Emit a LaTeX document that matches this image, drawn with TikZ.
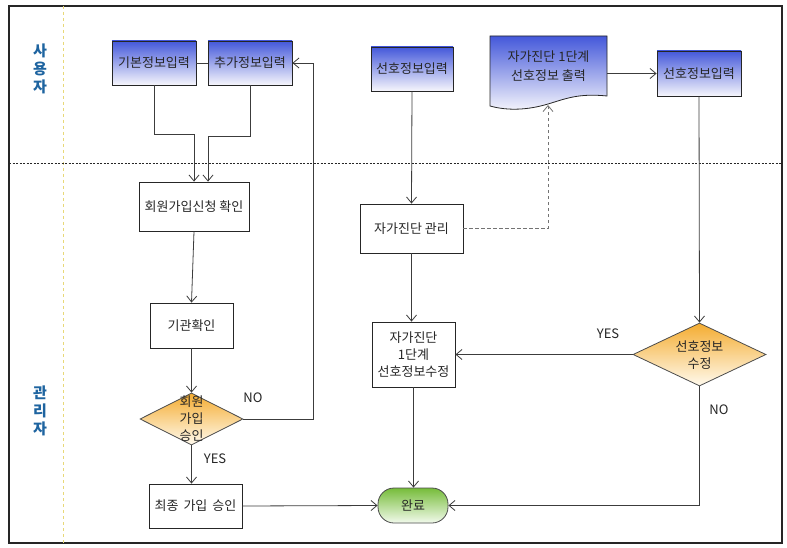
\documentclass[tikz,border=0pt]{standalone}
\usepackage{fontspec}
\setmainfont{Noto Sans CJK KR}
\usetikzlibrary{arrows.meta,shapes.geometric,calc}
\definecolor{bluetop}{RGB}{68,88,218}
\definecolor{bluemid}{RGB}{160,170,236}
\definecolor{bluebot}{RGB}{246,246,252}
\definecolor{orgtop}{RGB}{244,172,48}
\definecolor{orgbot}{RGB}{255,250,238}
\definecolor{grntop}{RGB}{118,188,58}
\definecolor{grnbot}{RGB}{242,250,236}
\definecolor{lanecol}{RGB}{30,100,160}
\definecolor{linecol}{RGB}{60,60,60}
\definecolor{lanesep}{RGB}{232,216,120}
\tikzset{
  txt/.style={font=\fontsize{13}{17}\selectfont, text=black!85, align=center, inner sep=0pt},
  bluebox/.style={txt, draw=black!85, line width=0.8pt, top color=bluetop, middle color=bluemid, bottom color=bluebot, minimum width=84pt, minimum height=44pt},
  plainbox/.style={txt, draw=black!85, line width=0.8pt, fill=white},
  dia/.style={diamond, draw=black!70, line width=0.8pt, top color=orgtop, bottom color=orgbot, inner sep=0pt},
  arr/.style={draw=linecol, line width=0.8pt, -{Straight Barb[length=6pt,width=10pt]}},
  conn/.style={draw=linecol, line width=0.8pt},
  lanelbl/.style={font=\fontsize{15}{18}\selectfont\bfseries, text=lanecol, align=center, inner sep=0pt},
  lbl/.style={font=\fontsize{13}{14}\selectfont, text=black!85, inner sep=0pt}
}
\begin{document}
\begin{tikzpicture}[x=1pt,y=-1pt]
\useasboundingbox (0,0) rectangle (787,548);
\fill[white] (0,0) rectangle (787,548);
% frame and lanes
\draw[line width=1.1pt, black!85] (9,6) rectangle (782,543);
\draw[lanesep, dashed, line width=0.8pt] (63,6) -- (63,543);
\draw[black!85, dash pattern=on 2pt off 1.5pt, line width=0.7pt] (9,163) -- (782,163);
\node[lanelbl] (lu) at (40,69) {사\\용\\자};
\node[lanelbl] (lm) at (40,411) {관\\리\\자};
% user lane
\node[bluebox] (b1) at (154,63) {기본정보입력};
\node[bluebox] (b2) at (250,63) {추가정보입력};
\node[bluebox, minimum width=82pt] (b3) at (412,69) {선호정보입력};
\path[draw=black!85, line width=0.8pt, top color=bluetop, middle color=bluemid, bottom color=bluebot]
  (490,36) -- (607,36) -- (607,96) .. controls (578,93) and (565,99) .. (548,104)
  .. controls (528,110) and (508,111) .. (490,106) -- cycle;
\node[txt, minimum width=117pt, minimum height=60pt, font=\fontsize{13}{19}\selectfont] (doc) at (548.5,66.5) {자가진단 1단계\\선호정보 출력};
\coordinate (docb) at (548,105);
\node[bluebox, minimum height=45pt] (b4) at (699,73.5) {선호정보입력};
% admin lane
\node[plainbox, minimum width=110pt, minimum height=49pt] (r1) at (194,206.5) {회원가입신청 확인};
\node[plainbox, minimum width=83pt, minimum height=45pt] (r2) at (191.5,325.5) {기관확인};
\node[dia, minimum width=103pt, minimum height=52pt] (d1) at (191.5,419) {};
\node[txt] (d1t) at (191.5,419) {회원\\가입\\승인};
\node[plainbox, minimum width=93pt, minimum height=44pt] (r3) at (195.5,506) {최종\hspace{5pt}가입\hspace{5pt}승인};
\node[plainbox, minimum width=103pt, minimum height=49pt] (s1) at (411.5,228.5) {자가진단 관리};
\node[plainbox, minimum width=83pt, minimum height=65pt] (s2) at (413.5,354.5) {자가진단\\1단계\\선호정보수정};
\node[dia, minimum width=133pt, minimum height=63pt] (d2) at (699.5,354.5) {};
\node[txt] (d2t) at (699.5,355) {선호정보\\수정};
\node[txt, draw=black!70, line width=0.8pt, rounded corners=16pt, top color=grntop, bottom color=grnbot, minimum width=70pt, minimum height=35pt] (end) at (413,505.5) {완료};
% connectors
\draw[conn] (b1.east) -- (b2.west);
\draw[arr] (b1.south) -- ++(0,49) -| (r1.north);
\draw[arr] (b2.south) -- ++(0,51) -| ([xshift=14pt]r1.north);
\draw[arr] (r1.south) -- (r2.north);
\draw[arr] (r2.south) -- (d1.north);
\coordinate (nox) at (313,0);
\draw[arr] (d1.east) -| (nox |- b2.east) -- (b2.east);
\draw[arr] (d1.south) -- (d1.south |- r3.north);
\draw[arr] (r3.east) -- (end.west);
\draw[arr] (b3.south) -- (s1.north);
\draw[arr, draw=black!55, dash pattern=on 3.5pt off 2.5pt] (s1.east) -| (docb);
\draw[arr] (s1.south) -- (s1.south |- s2.north);
\draw[arr] (s2.south) -- (s2.south |- end.north);
\draw[arr] (doc.east |- b4.west) -- (b4.west);
\draw[arr] (b4.south) -- (d2.north);
\draw[arr] (d2.west) -- (s2.east);
\draw[arr] (d2.south) |- (end.east);
% labels
\node[lbl] (no1) at (253,398) {NO};
\node[lbl] (yes1) at (215,459) {YES};
\node[lbl] (yes2) at (608,334) {YES};
\node[lbl] (no2) at (719,410) {NO};
\end{tikzpicture}
\end{document}
